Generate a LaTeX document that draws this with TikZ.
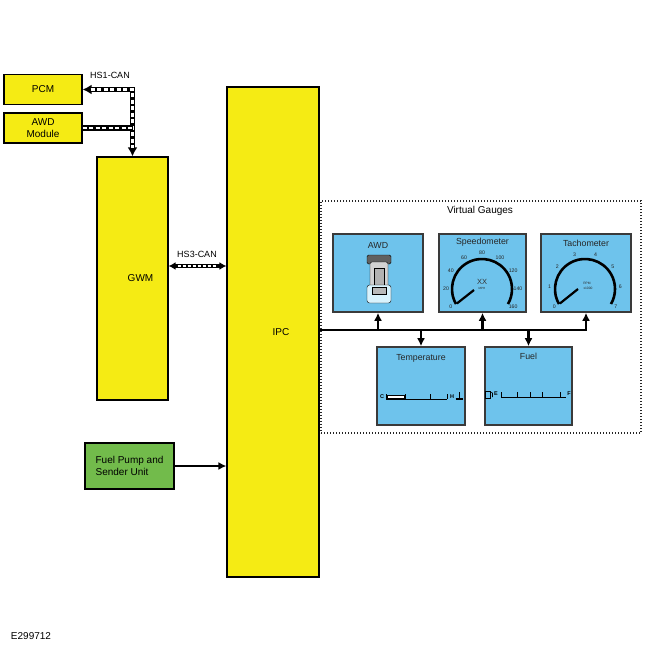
\documentclass[tikz,border=0pt]{standalone}
\usepackage{fontspec}
\setmainfont{Liberation Sans}
\usetikzlibrary{arrows.meta,calc,positioning}
\definecolor{modyellow}{HTML}{F5EB14}
\definecolor{gaugeblue}{HTML}{6EC3EC}
\definecolor{pumpgreen}{HTML}{72BB4B}
\definecolor{gaugeedge}{HTML}{3A3A3A}
\tikzset{
	module/.style={draw=black, line width=1.2pt, fill=modyellow, align=center, inner sep=0pt, font=\fontsize{10}{11.5}\selectfont},
	gauge/.style={draw=gaugeedge, line width=1.6pt, fill=gaugeblue, minimum height=78pt, inner sep=0pt},
	gtitle/.style={font=\fontsize{8.8}{10}\selectfont, text=black!85},
	dial/.style={font=\fontsize{5.2}{6}\selectfont, text=black!85, inner sep=0pt},
	canbus/.style={line width=5.4pt, postaction={draw=white, line width=2.2pt, dash pattern=on 4pt off 2.5pt, arrows=-, shorten <=#1, shorten >=#1}},
	canbus/.default=0pt,
	bus/.style={line width=2.2pt},
	tip/.style={-{Latex[length=8pt,width=8pt]}},
}
\begin{document}
\begin{tikzpicture}[x=1pt,y=1pt]
	\useasboundingbox[fill=white] (0,0) rectangle (650,-650);
	
	% modules
	\node[module, minimum width=78pt, minimum height=30pt] (pcm) at (43,-89.5) {PCM};
	\node[module, minimum width=78pt, minimum height=30pt] (awdmod) at (43,-128) {AWD\\Module};
	\node[module, minimum width=71pt, minimum height=243pt, label={[xshift=8pt,font=\fontsize{10}{11}\selectfont]center:GWM}] (gwm) at (132.5,-278.5) {};
	\node[module, minimum width=92pt, minimum height=490pt, label={[xshift=8pt,font=\fontsize{10}{11}\selectfont]center:IPC}] (ipc) at (273,-332) {};
	\node[module, fill=pumpgreen, align=left, minimum width=89pt, minimum height=46pt] (pump) at (129.5,-466) {Fuel Pump and\\Sender Unit};
	
	% HS1-CAN
	\coordinate (hs1) at (gwm.north |- pcm.east);
	\draw[canbus=8pt, {Latex[length=9pt,width=10pt]}-{Latex[length=9pt,width=10pt]}] (pcm.east) -- (hs1) -- (gwm.north);
	\draw[canbus] (awdmod.east) -- (awdmod.east -| gwm.north);
	\node[font=\fontsize{9}{10}\selectfont] (hs1lbl) at (110,-75) {HS1-CAN};
	
	% HS3-CAN
	\coordinate (hs3a) at (gwm.east |- 0,-266);
	\coordinate (hs3b) at (ipc.west |- 0,-266);
	\draw[line width=3.6pt, {Latex[length=7pt,width=8pt]}-{Latex[length=7pt,width=8pt]}, postaction={draw=white, line width=1.6pt, dash pattern=on 3pt off 2pt, arrows=-, shorten <=9pt, shorten >=9pt}] (hs3a) -- (hs3b);
	\node[font=\fontsize{9}{10}\selectfont] (hs3lbl) at (197,-254) {HS3-CAN};
	
	% fuel sender
	\draw[bus, tip] (pump.east) -- (pump.east -| ipc.west);
	
	% virtual gauges
	\node[draw=black!85, line width=1.1pt, dash pattern=on 1.1pt off 1.9pt, minimum width=320pt, minimum height=232pt] (vg) at (481,-317) {};
	\node[font=\fontsize{10}{11}\selectfont] (vglbl) at (480,-211) {Virtual Gauges};
	
	\node[gauge, minimum width=90pt] (gawd) at (378,-273) {};
	\node[gauge, minimum width=87pt] (gspeed) at (482.5,-273) {};
	\node[gauge, minimum width=90pt] (gtach) at (586,-273) {};
	\node[gauge, minimum width=88pt] (gtemp) at (421,-386) {};
	\node[gauge, minimum width=87pt] (gfuel) at (528.5,-386) {};
	
	\node[gtitle] (tawd) at (378,-245) {AWD};
	\node[gtitle] (tspeed) at (482.5,-242) {Speedometer};
	\node[gtitle] (ttach) at (586,-243) {Tachometer};
	\node[gtitle] (ttemp) at (421,-358) {Temperature};
	\node[gtitle] (tfuel) at (528.5,-356) {Fuel};
	
	% bus to the gauges
	\coordinate (busstart) at (ipc.east |- 0,-330);
	\draw[bus, tip] (busstart) -| (gtach.south);
	\draw[bus, tip] (gawd.south |- busstart) -- (gawd.south);
	\draw[bus, tip] (gspeed.south |- busstart) -- (gspeed.south);
	\draw[bus, tip] (gtemp.north |- busstart) -- (gtemp.north);
	\draw[bus, tip] (gfuel.north |- busstart) -- (gfuel.north);
	
	% AWD vehicle
	\draw[fill=gray!75!black, rounded corners=1.5pt] (367,-255) rectangle (391,-264);
	\draw[fill=gray!35, rounded corners=2pt] (370,-262) rectangle (388,-290);
	\draw[fill=gray!60] (374,-268) rectangle (384,-286);
	\draw[fill=cyan!15, rounded corners=2.5pt] (367,-285) rectangle (391,-303);
	\draw[fill=gray!55] (372,-287) rectangle (386,-294);
	
	% speedometer
	\coordinate (sc) at (482,-289);
	\draw[line width=2.6pt] ($(sc)+(210:30)$) arc[start angle=210, end angle=-30, radius=30];
	\foreach \v [count=\i from 0] in {0,20,40,60,80,100,120,140,160}
		\node[dial] at ($(sc)+(210-30*\i:36)$) {\v};
	\draw[line width=2.2pt] ($(sc)+(210:29)$) -- ($(sc)+(-8,-1)$);
	\node[font=\fontsize{7.5}{8}\selectfont, text=black!80] (xx) at ($(sc)+(0,7)$) {XX};
	\node[dial, font=\fontsize{3}{3}\selectfont] (mph) at ($(sc)+(0,1)$) {MPH};
	
	% tachometer
	\coordinate (tc) at (585,-289);
	\draw[line width=2.6pt] ($(tc)+(210:30)$) arc[start angle=210, end angle=-30, radius=30];
	\foreach \v in {0,...,7}
		\node[dial] at ($(tc)+(210-240*\v/7:35.5)$) {\v};
	\draw[line width=2.2pt] ($(tc)+(210:29)$) -- ($(tc)+(-7,0)$);
	\node[dial, font=\fontsize{3.3}{3.5}\selectfont] (rpm) at ($(tc)+(2,6)$) {RPM};
	\node[dial, font=\fontsize{3.3}{3.5}\selectfont] (rpmx) at ($(tc)+(3,1)$) {x1000};
	
	% temperature
	\node[font=\bfseries\fontsize{5.5}{5.5}\selectfont, inner sep=0pt] (tc1) at (382,-397) {C};
	\draw[line width=0.8pt] (386,-399) -- (447,-399);
	\foreach \x in {386,405,430,447}
		\draw[line width=0.8pt] (\x,-399) -- (\x,-394);
	\draw[line width=1.2pt, fill=white] (387,-395.5) rectangle (405,-398.5);
	\node[font=\bfseries\fontsize{5.5}{5.5}\selectfont, inner sep=0pt] (th) at (452,-397) {H};
	\draw[line width=1pt] (459,-392) -- (459,-398.5);
	\draw[line width=1.2pt] (455.5,-399) -- (462.5,-399);
	
	% fuel
	\draw[line width=0.7pt] (485.5,-391) rectangle (490.5,-398);
	\draw[line width=0.6pt] (490.5,-392) -- (492.5,-393) -- (492.5,-397);
	\node[font=\bfseries\fontsize{5.5}{5.5}\selectfont, inner sep=0pt] (fe) at (496,-394) {E};
	\draw[line width=0.8pt] (501,-397) -- (566,-397);
	\foreach \x in {501,517,530,542,560}
		\draw[line width=0.8pt] (\x,-397) -- (\x,-392);
	\node[font=\bfseries\fontsize{5.5}{5.5}\selectfont, inner sep=0pt] (ff) at (569,-394) {F};
	
	\node[font=\fontsize{10}{11}\selectfont] (ref) at (31,-636) {E299712};
\end{tikzpicture}
\end{document}
